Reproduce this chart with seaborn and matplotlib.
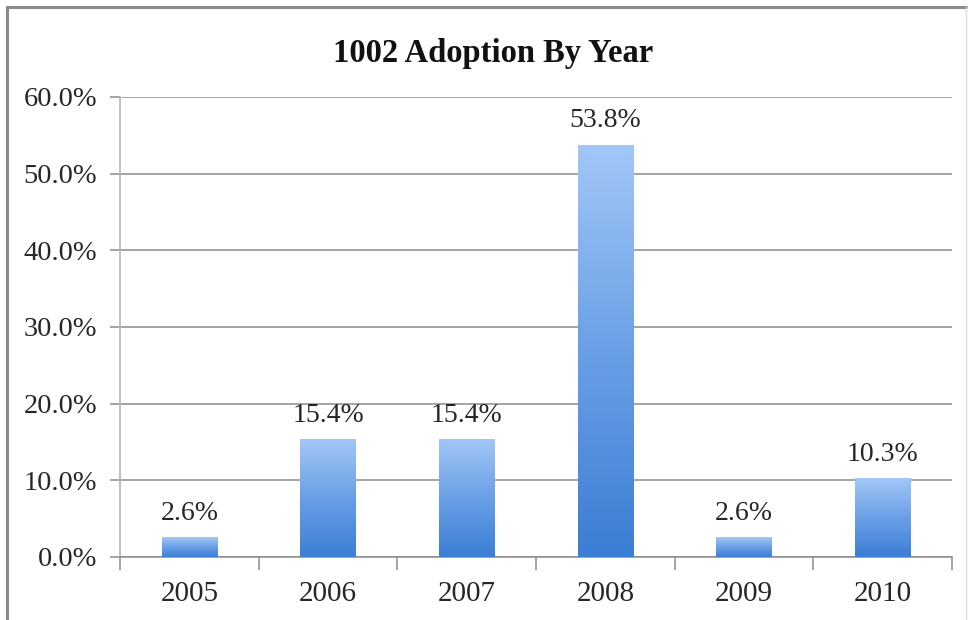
import numpy as np
import pandas as pd
import matplotlib
matplotlib.use("Agg")
import matplotlib.pyplot as plt
from matplotlib.colors import LinearSegmentedColormap
from matplotlib.ticker import PercentFormatter, FixedLocator
from matplotlib.lines import Line2D
import seaborn as sns

# Share of 1002 adoptions per year (percent)
years = ["2005", "2006", "2007", "2008", "2009", "2010"]
adoption_pct = [2.6, 15.4, 15.4, 53.8, 2.6, 10.3]
y_ticks = [0, 10, 20, 30, 40, 50, 60]
title = "1002 Adoption By Year"

df = pd.DataFrame({"year": years, "pct": adoption_pct})

sns.set_theme(style="white")
plt.rcParams["font.family"] = ["Liberation Serif", "DejaVu Serif"]

fig = plt.figure(figsize=(9.68, 6.2), dpi=100)
ax = fig.add_axes([120 / 968, 1 - 557 / 620, (952 - 120) / 968, (557 - 97) / 620])

sns.barplot(data=df, x="year", y="pct", color="#6fa3e8", width=0.4,
            saturation=1, ax=ax, zorder=3)

# Vertical gradient fill for every bar: light at top, darker at the base
grad_cmap = LinearSegmentedColormap.from_list("bar_grad", ["#3b7ed5", "#6a9fe6", "#a2c7f7"])
grad = np.linspace(0, 1, 256).reshape(-1, 1)
for patch in ax.patches:
    x0, y0 = patch.get_x(), patch.get_y()
    w, h = patch.get_width(), patch.get_height()
    im = ax.imshow(grad, cmap=grad_cmap, origin="lower", aspect="auto",
                   extent=[x0, x0 + w, y0, y0 + h], zorder=3, interpolation="bicubic")
    im.set_clip_path(patch)
    patch.set_facecolor("none")
    patch.set_edgecolor("none")

ax.set_xlim(-0.5, len(years) - 0.5)
ax.set_ylim(0, 60)
ax.yaxis.set_major_locator(FixedLocator(y_ticks))
ax.yaxis.set_major_formatter(PercentFormatter(decimals=1))

ax.set_axisbelow(True)
ax.grid(axis="y", color="#8c8c8c", linewidth=1.1)
ax.grid(axis="x", visible=False)

for side in ["top", "right"]:
    ax.spines[side].set_visible(False)
ax.spines["left"].set_color("#b5b5b5")
ax.spines["left"].set_linewidth(1.2)
ax.spines["bottom"].set_color("#8c8c8c")
ax.spines["bottom"].set_linewidth(1.1)

# Category boundary ticks on the x axis
ax.set_xticks(np.arange(-0.5, len(years), 1.0), minor=True)
ax.tick_params(axis="x", which="minor", bottom=True, length=9, width=1.1, color="#8c8c8c")
ax.tick_params(axis="x", which="major", bottom=False, length=0, pad=17,
               labelsize=21, labelcolor="#262626")
ax.tick_params(axis="y", which="major", left=True, length=7, width=1.1, color="#8c8c8c",
               pad=9.5, labelsize=20.5, labelcolor="#262626")
ax.set_xlabel("")
ax.set_ylabel("")

for container in ax.containers:
    ax.bar_label(container, labels=[f"{v:.1f}%" for v in adoption_pct],
                 padding=8, fontsize=20, color="#262626")

fig.text(493 / 968, 1 - 62 / 620, title, ha="center", va="baseline",
         fontsize=23.5, fontweight="bold", color="#111111")

# Chart frame
fig.add_artist(Line2D([7 / 968, 7 / 968], [0, 1 - 7 / 620], transform=fig.transFigure,
                      color="#8a8a8a", linewidth=2.2))
fig.add_artist(Line2D([7 / 968, 966 / 968], [1 - 7 / 620, 1 - 7 / 620], transform=fig.transFigure,
                      color="#8a8a8a", linewidth=2.2))
fig.add_artist(Line2D([966 / 968, 966 / 968], [0, 1 - 7 / 620], transform=fig.transFigure,
                      color="#dddddd", linewidth=1.0))

fig.savefig("out.png", dpi=100)
